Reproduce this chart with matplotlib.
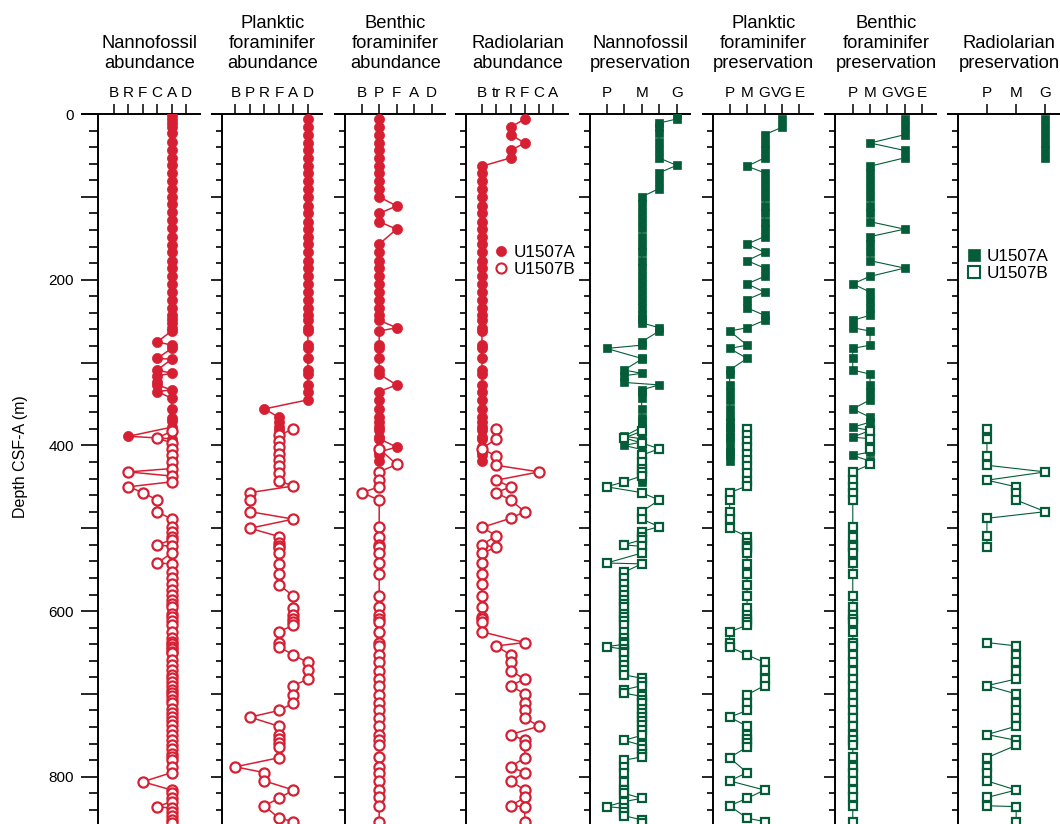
import matplotlib
matplotlib.use('Agg')
import matplotlib.pyplot as plt
from matplotlib.ticker import MultipleLocator, FuncFormatter
from matplotlib.lines import Line2D

plt.rcParams['font.family'] = ['Liberation Sans', 'DejaVu Sans']

RED = '#d71f33'
GREEN = '#045d38'

# ---------------------------------------------------------------- categories
nanno_ab_cats = ['B', 'R', 'F', 'C', 'A', 'D']
plank_ab_cats = ['B', 'P', 'R', 'F', 'A', 'D']
benth_ab_cats = ['B', 'P', 'F', 'A', 'D']
rad_ab_cats = ['B', 'tr', 'R', 'F', 'C', 'A']
nanno_pr_cats = ['P', 'PM', 'M', 'MG', 'G']
nanno_pr_labels = ['P', '', 'M', '', 'G']
foram_pr_cats = ['P', 'M', 'G', 'VG', 'E']
rad_pr_cats = ['P', 'M', 'G']

# '-' = not sampled (line continues), 'x' = barren (line breaks)

# ---------------------------------------------------------------- Hole U1507A
nanno_A_depth = [1, 6, 11, 16, 23, 34, 44, 53, 62, 71,
                 81, 90, 100, 109, 118, 128, 138, 148, 158, 167,
                 177, 186, 196, 205, 215, 224, 234, 243, 247, 252,
                 258, 262, 275, 279, 283, 295, 296, 309, 313, 316,
                 324, 327, 333, 335, 343, 356, 367, 371, 378, 389,
                 392, 396, 400, 405, 410, 415, 420, 425, 430, 436,
                 440, 444]
nanno_A_abund = ("A A A A A A A A A A  A A A A A A A A A A  A A A A A A A A A A  "
                 "A A C A A C A C A C  C C A C A A A A A R  A A A A A A A A A A  A A").split()
nanno_A_pres = ("G G MG MG MG MG MG MG G MG  MG MG M M M M M M M M  M M M M M M M M M M  "
                "MG MG M M P M M PM M PM  PM MG M M M M M M M PM  M M PM M M M M M M M  M M").split()

cc_A_depth = [6, 16, 25, 35, 44, 53, 63, 71, 81, 90,
              100, 111, 120, 130, 139, 148, 157, 167, 177, 186,
              196, 205, 215, 224, 234, 243, 249, 258, 262, 279,
              283, 295, 309, 314, 327, 335, 345, 356, 366, 372,
              378, 382, 390, 392, 402, 408, 412, 419]
plank_A_abund = ("D D D D D D D D D D  D D D D D D D D D D  D D D D D D D D D D  "
                 "D D D D D D D R F F  F F F F F F F F").split()
benth_A_abund = ("P P P P P P P P P P  P F P P F - P P P P  P P P P P P P F P P  "
                 "P P P P F P P P P P  P P P P F P P P").split()
rad_A_abund = ("F R R F R R B B B B  B B B B B B B B B B  B B B B B B B B B B  "
               "B B B B B B B B B B  B B B B B B B B").split()
plank_A_pres = ("VG VG G G G G M G G G  G G G G G G M G M G  G M G M M G G M P M  "
                "P M P P P P P P P P  P P P P P P P P").split()
benth_A_pres = ("VG VG VG M VG VG M M M M  M M M M VG M M M M VG  M P M M M M P P M M  "
                "P P P M M M M P M M  P M P M M M P M").split()
rad_A_pres = ("G G G G G G x x x x  x x x x x x x x x x  x x x x x x x x x x  "
              "x x x x x x x x x x  x x x x x x x x").split()

# ---------------------------------------------------------------- Hole U1507B
nanno_B_depth = [383, 391, 397, 404, 412, 420, 428, 432, 437, 444,
                 450, 457, 466, 480, 489, 498, 504, 510, 514, 520,
                 522, 530, 542, 543, 553, 560, 567, 574, 581, 587,
                 591, 595, 603, 607, 612, 617, 625, 632, 637, 640,
                 643, 646, 649, 651, 659, 665, 671, 677, 681, 686,
                 690, 695, 699, 703, 707, 711, 718, 723, 728, 733,
                 738, 744, 750, 756, 762, 767, 772, 776, 780, 788,
                 795, 806, 816, 820, 826, 830, 836, 838, 842, 847,
                 852, 856]
nanno_B_abund = ("A C A A A A A R A A  R F C C A A A A A C  A A C A A A A A A A  "
                 "A A A A A A A A A A  A A A A A A A A A A  A A A A A A A A A A  "
                 "A A A A A A A A A A  A F A A A A C A A A  A A").split()
nanno_B_pres = ("M PM M MG M M M M M PM  P M MG M M MG M M M PM  M M P M PM PM PM PM PM PM  "
                "PM PM PM PM PM PM PM PM PM PM  P PM PM PM PM PM PM PM M M  "
                "M PM PM M M M M M M M  M M M PM M M M M PM PM  "
                "PM PM PM PM M PM P PM PM PM  M M").split()

plank_B_depth = [380, 388, 395, 402, 410, 418, 425, 433, 443, 449,
                 457, 466, 480, 489, 500, 510, 518, 521, 524, 530,
                 543, 555, 568, 582, 596, 605, 609, 613, 617, 625,
                 639, 643, 653, 662, 671, 682, 690, 701, 711, 720,
                 728, 739, 749, 754, 759, 764, 777, 788, 795, 805,
                 816, 826, 835, 850, 854]
plank_B_abund = ("A F F F F F F F F A  P P P A P F F F F F  F F F A A A A A A F  "
                 "F F A D D D A A A F  P F F F F F F B R R  A F R F A").split()
plank_B_pres = ("M M M M M M M M M M  P P P P P M M M M M  M M M M M M M M M P  "
                "P P M G G G G M M M  P M M M M M P - M P  G M P M G").split()

benth_B_depth = [383, 392, 404, 423, 432, 442, 450, 457, 466, 499,
                 510, 520, 523, 530, 542, 555, 582, 595, 605, 609,
                 613, 625, 639, 642, 653, 662, 672, 682, 690, 701,
                 711, 720, 729, 739, 749, 756, 762, 776, 788, 795,
                 805, 816, 825, 835, 855]
benth_B_abund = ("- - P F P P P B P P  P P P P P P P P P P  P P P P P P P P P P  "
                 "P P P P P P P P P P  P P P P P").split()
benth_B_pres = ("M M M M P P P P P P  P P P P P P P P P P  P P P P P P P P P P  "
                "P P P P P P P P P P  P P P P P").split()

rad_B_depth = [380, 392, 404, 413, 424, 432, 442, 450, 457, 466,
               480, 488, 499, 509, 520, 523, 530, 542, 555, 567,
               582, 595, 607, 610, 613, 625, 638, 642, 653, 662,
               672, 682, 690, 700, 711, 720, 729, 739, 749, 756,
               762, 777, 788, 795, 805, 816, 825, 835, 836, 855]
rad_B_abund = ("tr tr B tr tr C tr R tr R  F R B tr B tr B B B B  B B B B B B F tr R R  "
               "R F R F F F F C R F  F F R F R F F R F F").split()
rad_B_pres = ("P P - P P G P M M M  G P - P - P x x x x  x x x x x x P M M M  "
              "M M P M M M M M P M  M P P P P M P P M M").split()

# ---------------------------------------------------------------- panels
panels = [
    dict(title='Nannofossil\nabundance', cats=nanno_ab_cats, labels=nanno_ab_cats,
         A=(nanno_A_depth, nanno_A_abund), B=(nanno_B_depth, nanno_B_abund),
         kind='ab', left=98, width=103, xlim=(-1.11, 6.04), ext=17),
    dict(title='Planktic\nforaminifer\nabundance', cats=plank_ab_cats, labels=plank_ab_cats,
         A=(cc_A_depth, plank_A_abund), B=(plank_B_depth, plank_B_abund),
         kind='ab', left=222, width=101, xlim=(-0.92, 6.04), ext=11),
    dict(title='Benthic\nforaminifer\nabundance', cats=benth_ab_cats, labels=benth_ab_cats,
         A=(cc_A_depth, benth_A_abund), B=(benth_B_depth, benth_B_abund),
         kind='ab', left=345, width=101, xlim=(-0.96, 4.83), ext=11),
    dict(title='Radiolarian\nabundance', cats=rad_ab_cats, labels=rad_ab_cats,
         A=(cc_A_depth, rad_A_abund), B=(rad_B_depth, rad_B_abund),
         kind='ab', left=466, width=103, xlim=(-1.12, 6.1), ext=11, legend=True),
    dict(title='Nannofossil\npreservation', cats=nanno_pr_cats, labels=nanno_pr_labels,
         A=(nanno_A_depth, nanno_A_pres), B=(nanno_B_depth, nanno_B_pres),
         kind='pr', left=590, width=101, xlim=(-0.95, 4.82), ext=11),
    dict(title='Planktic\nforaminifer\npreservation', cats=foram_pr_cats, labels=foram_pr_cats,
         A=(cc_A_depth, plank_A_pres), B=(plank_B_depth, plank_B_pres),
         kind='pr', left=713, width=101, xlim=(-0.95, 4.83), ext=11),
    dict(title='Benthic\nforaminifer\npreservation', cats=foram_pr_cats, labels=foram_pr_cats,
         A=(cc_A_depth, benth_A_pres), B=(benth_B_depth, benth_B_pres),
         kind='pr', left=835, width=102, xlim=(-1.03, 4.88), ext=11),
    dict(title='Radiolarian\npreservation', cats=rad_pr_cats, labels=rad_pr_cats,
         A=(cc_A_depth, rad_A_pres), B=(rad_B_depth, rad_B_pres),
         kind='pr', left=958, width=102, xlim=(-0.99, 2.5), ext=11, legend=True),
]

W, H = 1060, 824
TOP = 114

fig = plt.figure(figsize=(W / 100, H / 100), dpi=100)


def draw_series(ax, cats, depth, codes, filled, kind):
    assert len(depth) == len(codes), (len(depth), len(codes))
    x, y = [], []
    for d, c in zip(depth, codes):
        if c == '-':
            continue
        x.append(float('nan') if c == 'x' else cats.index(c))
        y.append(d)
    if kind == 'ab':
        col, mk, ms, lw = RED, 'o', 7.3, 1.1
    else:
        col, mk, ms, lw = GREEN, 's', 6.2, 0.8
    ax.plot(x, y, '-', color=col, lw=lw, marker=mk, ms=ms,
            mfc=col if filled else 'white', mec=col,
            mew=0.5 if filled else 1.6, zorder=3 if filled else 4)


for i, p in enumerate(panels):
    ax = fig.add_axes([p['left'] / W, 0, p['width'] / W, (H - TOP) / H])
    draw_series(ax, p['cats'], p['A'][0], p['A'][1], True, p['kind'])
    draw_series(ax, p['cats'], p['B'][0], p['B'][1], False, p['kind'])

    ax.set_ylim(857, 0)
    ax.set_xlim(*p['xlim'])
    for s in ('right', 'bottom', 'top'):
        ax.spines[s].set_visible(False)
    ax.spines['left'].set_linewidth(1.4)
    ax.plot([-p['ext'] / p['width'], 1], [1, 1], transform=ax.transAxes,
            color='black', lw=1.4, clip_on=False, solid_capstyle='butt')

    ax.xaxis.tick_top()
    ax.set_xticks(range(len(p['cats'])))
    ax.set_xticklabels(p['labels'])
    ax.tick_params(axis='x', which='both', top=True, bottom=False, length=7.2,
                   width=1.1, pad=3, labelsize=11)

    ax.yaxis.set_major_locator(MultipleLocator(100))
    ax.yaxis.set_minor_locator(MultipleLocator(20))
    if i == 0:
        ax.tick_params(axis='y', which='major', length=12.2, width=1.2, pad=5, labelsize=11)
        ax.tick_params(axis='y', which='minor', length=6.5, width=1.2)
        ax.yaxis.set_major_formatter(FuncFormatter(lambda v, _: f'{int(v)}' if v % 200 == 0 else ''))
        ax.set_ylabel('Depth CSF-A (m)', fontsize=11.5)
        ax.yaxis.set_label_coords(-0.68, 0.517)
    else:
        ax.tick_params(axis='y', which='major', length=7.9, width=1.2, labelleft=False)
        ax.tick_params(axis='y', which='minor', length=4.5, width=1.2)

    ax.set_title(p['title'], fontsize=13.2, pad=13, linespacing=1.22)

    if p.get('legend'):
        col = RED if p['kind'] == 'ab' else GREEN
        mk = 'o' if p['kind'] == 'ab' else 's'
        ms = 7.3 if p['kind'] == 'ab' else 8
        handles = [Line2D([], [], ls='none', marker=mk, ms=ms, mfc=col, mec=col, mew=0.5),
                   Line2D([], [], ls='none', marker=mk, ms=ms, mfc='white', mec=col, mew=1.5)]
        anchor = (0.27, 0.815) if p['kind'] == 'ab' else (0.09, 0.81)
        leg = ax.legend(handles, ['U1507A', 'U1507B'], loc='upper left', bbox_to_anchor=anchor,
                        frameon=False, fontsize=12.3, handlelength=0.8, handletextpad=0.35,
                        borderpad=0, borderaxespad=0, labelspacing=0.1)
        leg.set_clip_on(False)

fig.savefig('out.png', dpi=100)
